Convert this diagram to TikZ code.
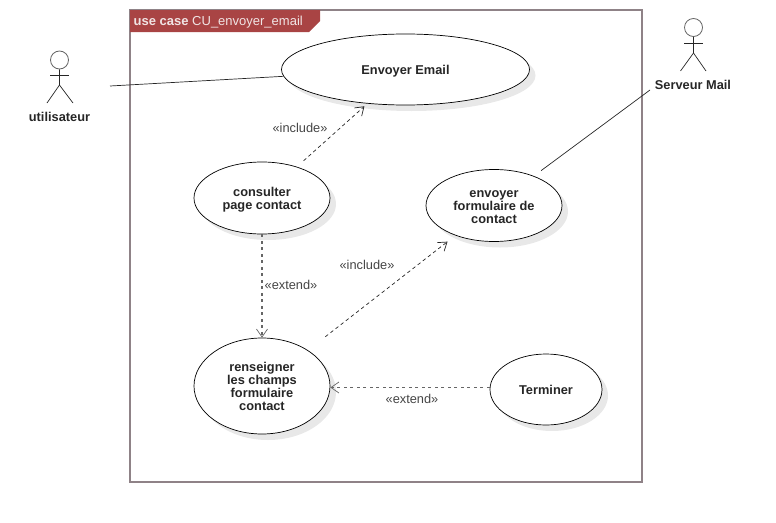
\documentclass[tikz,border=0pt]{standalone}
\usepackage{fontspec}
\setmainfont{Liberation Sans}
\usetikzlibrary{shapes.geometric, arrows.meta, positioning, shadows}
\definecolor{framegray}{HTML}{8F8287}
\definecolor{tabred}{HTML}{A94444}
\definecolor{tabtext}{HTML}{F0E4E4}
\definecolor{labelgray}{HTML}{454545}
\tikzset{
  usecase/.style={ellipse, draw=black, line width=0.7pt, fill=white, inner sep=0pt,
    font=\fontsize{12.8}{13}\selectfont\bfseries, align=center, text=black!85, text depth=-1pt,
    drop shadow={shadow xshift=6pt, shadow yshift=-6pt, fill=black!9, opacity=1}},
  actorname/.style={font=\fontsize{12.8}{13}\selectfont\bfseries, text=black!85},
  actorhead/.style={circle, draw=black!60, line width=0.8pt, minimum size=18pt, inner sep=0pt},
  actorline/.style={line width=0.7pt, black!85},
  steplabel/.style={font=\fontsize{12.8}{13}\selectfont, text=labelgray},
  assoc/.style={line width=0.7pt, black!85},
  depend/.style={dash pattern=on 3.5pt off 3pt, line width=0.7pt, black!85, -{Straight Barb[length=8pt,width=11pt,line width=0.7pt]}},
  extendline/.style={depend, dash pattern=on 3pt off 3.5pt, black!60, line width=1.3pt},
}
\begin{document}
\begin{tikzpicture}[x=1pt,y=-1pt]
\useasboundingbox (0,0) rectangle (776,522);
% Frame and its tab
\draw[framegray, line width=1.3pt] (130,10) rectangle (642,482);
\fill[tabred] (130,10) -- (320,10) -- (320,21) -- (309,32) -- (130,32) -- cycle;
\node[anchor=base west, inner sep=0pt, text=tabtext, font=\fontsize{13}{13}\selectfont] (frameTitle) at (133.5,25.5) {\textbf{use case} CU\_envoyer\_email};

% Use cases
\node[usecase, minimum width=248pt, minimum height=71pt] (envoyerEmail) at (405.5,69.5) {Envoyer Email};
\node[usecase, minimum width=136pt, minimum height=72pt] (consulter) at (262,198) {consulter\\page contact};
\node[usecase, minimum width=136pt, minimum height=72pt] (envoyerForm) at (494,205.5) {\rule{0pt}{10.2pt}envoyer\\formulaire de\\contact};
\node[usecase, minimum width=136pt, minimum height=96pt] (renseigner) at (262,386) {renseigner\\les champs\\formulaire\\contact};
\node[usecase, minimum width=112pt, minimum height=71pt] (terminer) at (546,389.5) {Terminer};

% Actors
\node[actorhead] (headUtilisateur) at (59.5,60) {};
\draw[actorline] (headUtilisateur.south) -- (59.5,85) -- (47,103);
\draw[actorline] (59.5,85) -- (73,103);
\draw[actorline] (50,75) -- (69,75);
\node[actorname] (utilisateur) at (59.5,116.5) {utilisateur};

\node[actorhead] (headServeur) at (693.5,27.5) {};
\draw[actorline] (headServeur.south) -- (693.5,53) -- (680.5,71);
\draw[actorline] (693.5,53) -- (706,71);
\draw[actorline] (684,43) -- (703,43);
\node[actorname] (serveurMail) at (693,84.5) {Serveur Mail};

% Associations
\coordinate (utilisateurEnd) at (110,86);
\coordinate (serveurEnd) at (650,90);
\draw[assoc] (utilisateurEnd) -- (envoyerEmail);
\draw[assoc, shorten >=9pt] (serveurEnd) -- (envoyerForm);

% Dependencies
\draw[depend, shorten <=9pt, shorten >=4pt] (consulter) -- (envoyerEmail);
\draw[depend, shorten <=22pt, shorten >=10pt] (renseigner) -- (envoyerForm);
\draw[extendline] (consulter) -- (renseigner);
\draw[extendline] ([yshift=2pt]terminer.west) -- ([yshift=-1.5pt]renseigner.east);

% Stereotypes
\node[steplabel] (includeTop) at (300,128) {«include»};
\node[steplabel] (includeMid) at (367,265) {«include»};
\node[steplabel] (extendLeft) at (291,285) {«extend»};
\node[steplabel] (extendBottom) at (412,399) {«extend»};
\end{tikzpicture}
\end{document}
